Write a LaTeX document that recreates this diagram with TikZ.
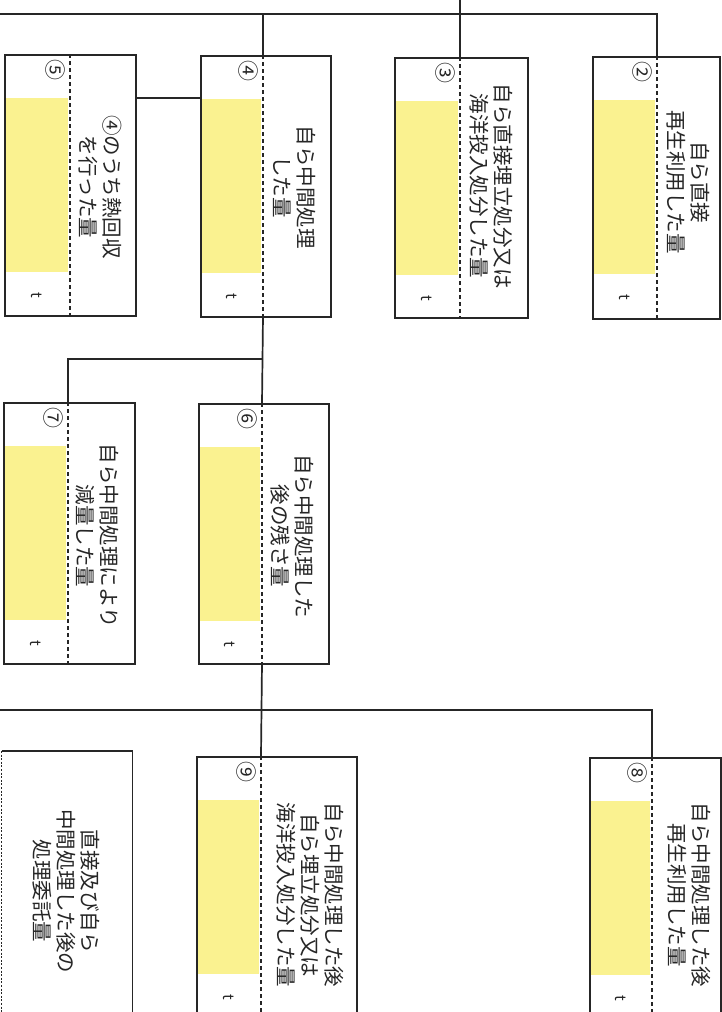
\documentclass[tikz,border=0pt]{standalone}
\usepackage{fontspec}
\setmainfont{Noto Sans CJK JP}
\usetikzlibrary{calc}
\definecolor{yel}{HTML}{FAF290}
\definecolor{ink}{HTML}{262626}
\tikzset{
  boxst/.style={draw=ink, line width=1.8pt, inner sep=0pt, anchor=north west},
  divst/.style={draw=ink, line width=1.5pt, dash pattern=on 4pt off 3pt},
  finediv/.style={draw=ink, line width=1.3pt, dash pattern=on 2pt off 1.6pt},
  conn/.style={draw=ink, line width=1.7pt},
  lbl/.style={rotate=-90, align=center, font=\fontsize{20.5}{24}\selectfont, text=ink, inner sep=0pt},
  numst/.style={rotate=-90, font=\fontsize{21}{21}\selectfont, text=ink, inner sep=0pt},
  unitst/.style={rotate=-90, font=\fontsize{15}{15}\selectfont, text=ink, inner sep=0pt},
}
% name, left, top, right, bottom, divider x, circled number
\newcommand\kbox[7]{%
  \fill[yel] (#2+1,#3+44) rectangle (#6-2,#3+218);
  \node[boxst, minimum width={(#4-#2)*1pt}, minimum height={(#5-#3)*1pt}] (#1) at (#2,#3) {};
  \coordinate (#1t) at (#6,#3);
  \coordinate (#1b) at (#6,#5);
  \draw[divst] (#1t) -- (#1b);
  \node[numst] (#1n) at (#6-15,#3+16) {#7};
  \node[unitst] (#1u) at ({(#2+#6)/2},#3+241) {t};
}
\begin{document}
\begin{tikzpicture}[x=1pt,y=-1pt]
\useasboundingbox (0,0) rectangle (722,1012);
\clip (0,0) rectangle (722,1012);
\fill[white] (0,0) rectangle (722,1012);

% boxes
\kbox{b2}{592}{56}{719}{318}{657}{②}
\kbox{b3}{394}{57}{527}{317}{460}{③}
\kbox{b4}{200}{55}{330}{316}{263}{④}
\kbox{b5}{4}{54}{135}{315}{70}{⑤}
\kbox{b6}{198}{403}{328}{663}{262}{⑥}
\kbox{b7}{3}{402}{134}{663}{68}{⑦}
\kbox{b8}{589}{757}{720}{1020}{652}{⑧}
\kbox{b9}{196}{756}{356}{1020}{261}{⑨}

% consignment box (partly outside the frame)
\node[inner sep=0pt, minimum width=130.5pt, minimum height=270pt, anchor=north west] (bk) at (1.5,751) {};
\draw[conn] (bk.north west) -- (bk.north east) -- (bk.south east);
\draw[finediv] (bk.north west) -- (bk.south west);

% labels
\node[lbl] (t2) at (688,182) {自ら直接\\再生利用した量};
\node[lbl] (t3) at (491,186) {自ら直接埋立処分又は\\海洋投入処分した量};
\node[lbl] (t4) at (295,187) {自ら中間処理\\した量};
\node[lbl] (t5) at (100,187) {④のうち熱回収\\を行った量};
\node[lbl] (t6) at (292,536) {自ら中間処理した\\後の残さ量};
\node[lbl] (t7) at (97,536) {自ら中間処理により\\減量した量};
\node[lbl] (t8) at (689,895) {自ら中間処理した後\\再生利用した量};
\node[lbl] (t9) at (310,895) {自ら中間処理した後\\自ら埋立処分又は\\海洋投入処分した量};
\node[lbl] (tk) at (66,891) {直接及び自ら\\中間処理した後の\\処理委託量};

% connectors
\coordinate (hl) at (-5,14);
\coordinate (in) at (0,-5);
\coordinate (y45) at (0,98);
\coordinate (j67) at (0,359);
\coordinate (hl2) at (-5,710);
\draw[conn] (hl) -| (b2t);
\draw[conn] (b3t |- in) -- (b3t);
\draw[conn] (b4t) -- (b4t |- hl);
\draw[conn] (b5.east |- y45) -- (b4.west |- y45);
\draw[conn] (b4b) -- (b6t);
\draw[conn] (b4b |- j67) -| (b7t);
\draw[conn] (b6b) -- (b9t);
\draw[conn] (hl2) -| (b8t);
\end{tikzpicture}
\end{document}
